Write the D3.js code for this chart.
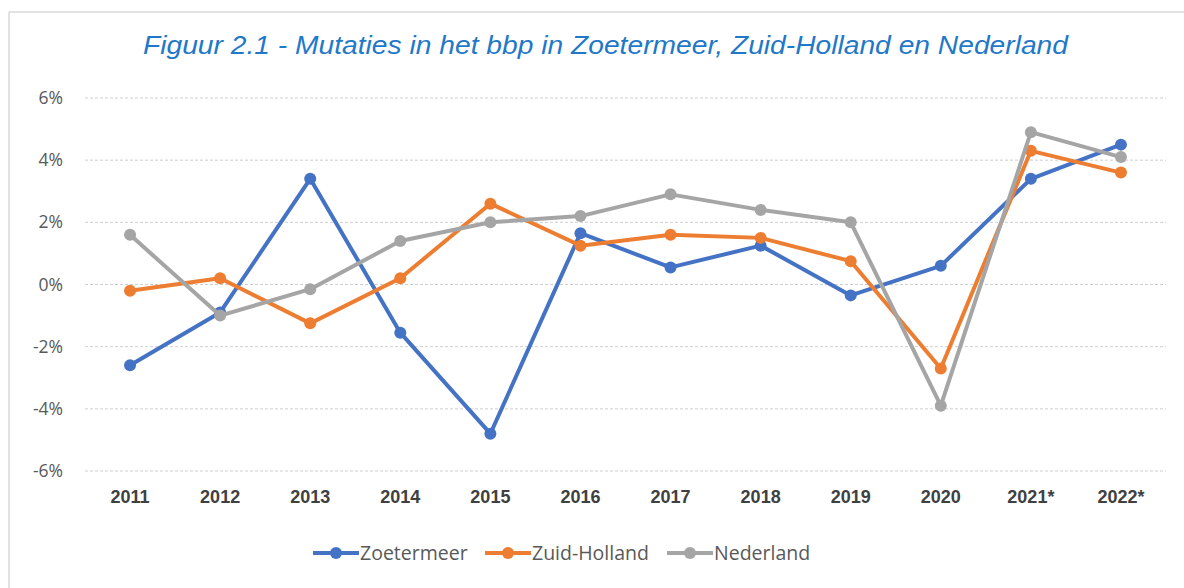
<!DOCTYPE html>
<html>
<head>
<meta charset="utf-8">
<script src="https://cdn.jsdelivr.net/npm/d3@7"></script>
<style>
  body { margin: 0; background: #fff; }
  svg { display: block; }
</style>
</head>
<body>
<svg id="chart"></svg>
<script>
// data (percent change)
var years = ["2011", "2012", "2013", "2014", "2015", "2016", "2017", "2018", "2019", "2020", "2021*", "2022*"];
var zoetermeer = [-2.6, -0.9, 3.4, -1.55, -4.8, 1.65, 0.55, 1.25, -0.35, 0.6, 3.4, 4.5];
var zuidHolland = [-0.2, 0.2, -1.25, 0.2, 2.6, 1.25, 1.6, 1.5, 0.75, -2.7, 4.3, 3.6];
var nederland = [1.6, -1.0, -0.15, 1.4, 2.0, 2.2, 2.9, 2.4, 2.0, -3.9, 4.9, 4.1];
var yTicks = [-6, -4, -2, 0, 2, 4, 6];
var seriesNames = ["Zoetermeer", "Zuid-Holland", "Nederland"];
var colors = ["#4472C4", "#ED7D31", "#A5A5A5"];

var width = 1184, height = 588;
var svg = d3.select("#chart").attr("width", width).attr("height", height);

// frame of the original picture (only top and left visible)
svg.append("line").attr("x1", 9).attr("x2", width).attr("y1", 12).attr("y2", 12)
  .attr("stroke", "#d9d9d9").attr("stroke-width", 1.5);
svg.append("line").attr("x1", 9).attr("x2", 9).attr("y1", 12).attr("y2", height)
  .attr("stroke", "#d9d9d9").attr("stroke-width", 1.5);

svg.append("text")
  .attr("x", 143).attr("y", 54)
  .attr("textLength", 925)
  .attr("lengthAdjust", "spacingAndGlyphs")
  .attr("font-family", "Liberation Sans, Arial, sans-serif")
  .attr("font-style", "italic")
  .attr("font-size", 25)
  .attr("fill", "#1F78C8")
  .text("Figuur 2.1 - Mutaties in het bbp in Zoetermeer, Zuid-Holland en Nederland");

var x = d3.scaleBand().domain(years).range([85, 1166]);
var y = d3.scaleLinear().domain([-6, 6]).range([471, 98]);

// gridlines
svg.append("g").selectAll("line").data(yTicks).enter().append("line")
  .attr("x1", 85).attr("x2", 1166)
  .attr("y1", function(d) { return y(d); })
  .attr("y2", function(d) { return y(d); })
  .attr("stroke", "#cfcfcf")
  .attr("stroke-width", 1)
  .attr("stroke-dasharray", "3,2");

// y axis labels
var yAxis = d3.axisLeft(y).tickValues(yTicks).tickSize(0).tickPadding(0)
  .tickFormat(function(d) { return d + "%"; });
var gy = svg.append("g").attr("transform", "translate(63,0)").call(yAxis);
gy.select(".domain").remove();
gy.selectAll("text")
  .attr("font-family", "Open Sans, Liberation Sans, sans-serif")
  .attr("font-size", 17.5)
  .attr("fill", "#595959");

// x axis labels
var xAxis = d3.axisBottom(x).tickSize(0).tickPadding(0);
var gx = svg.append("g").attr("transform", "translate(0,490)").call(xAxis);
gx.select(".domain").remove();
gx.selectAll("text")
  .attr("font-family", "Liberation Sans Narrow, Liberation Sans, sans-serif")
  .attr("font-weight", "bold")
  .attr("font-size", 18)
  .attr("fill", "#404040");

var allSeries = [zoetermeer, zuidHolland, nederland];
var line = d3.line()
  .x(function(d, i) { return x(years[i]) + x.bandwidth() / 2; })
  .y(function(d) { return y(d); });

allSeries.forEach(function(vals, k) {
  var g = svg.append("g");
  g.append("path")
    .datum(vals)
    .attr("d", line)
    .attr("fill", "none")
    .attr("stroke", colors[k])
    .attr("stroke-width", 4)
    .attr("stroke-linejoin", "round");
  g.selectAll("circle").data(vals).enter().append("circle")
    .attr("cx", function(d, i) { return x(years[i]) + x.bandwidth() / 2; })
    .attr("cy", function(d) { return y(d); })
    .attr("r", 6)
    .attr("fill", colors[k]);
});

// legend
var legendX = [313, 485, 667];
var legend = svg.append("g").selectAll("g").data(seriesNames).enter().append("g")
  .attr("transform", function(d, i) { return "translate(" + legendX[i] + ",553)"; });
legend.append("line")
  .attr("x1", 0).attr("x2", 46).attr("y1", 0).attr("y2", 0)
  .attr("stroke", function(d, i) { return colors[i]; })
  .attr("stroke-width", 4);
legend.append("circle")
  .attr("cx", 23).attr("cy", 0).attr("r", 6)
  .attr("fill", function(d, i) { return colors[i]; });
legend.append("text")
  .attr("x", 47).attr("y", 0).attr("dy", "0.35em")
  .attr("font-family", "Open Sans, Liberation Sans, sans-serif")
  .attr("font-size", 19.5)
  .attr("fill", "#595959")
  .text(function(d) { return d; });
</script>
</body>
</html>
